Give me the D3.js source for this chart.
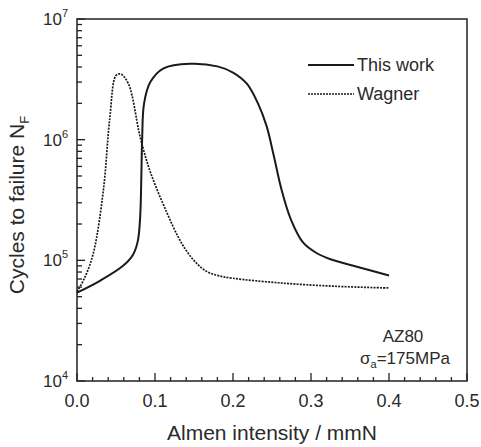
<!DOCTYPE html>
<html>
<head>
<meta charset="utf-8">
<script src="https://cdn.jsdelivr.net/npm/d3@7"></script>
<style>
  body { margin: 0; background: #fff; }
  text { font-family: "Liberation Sans", Arial, sans-serif; fill: #2a2a2a; }
</style>
</head>
<body>
<div id="chart"></div>
<script>
const width = 481;
const height = 447;
const margin = { top: 19, right: 14, bottom: 66, left: 77 };

// Almen intensity (mmN) and cycles to failure
const thisWorkX = [0.0, 0.03, 0.059, 0.072, 0.078, 0.081, 0.0825, 0.0835, 0.086, 0.094, 0.111, 0.145, 0.18, 0.2, 0.218, 0.232, 0.243, 0.252, 0.262, 0.274, 0.29, 0.307, 0.325, 0.36, 0.4];
const thisWorkN = [5.4e4, 6.8e4, 9.0e4, 1.12e5, 1.45e5, 2.3e5, 5.0e5, 1.0e6, 2.0e6, 3.0e6, 3.9e6, 4.25e6, 4.05e6, 3.6e6, 2.9e6, 2.0e6, 1.3e6, 7.5e5, 3.9e5, 2.2e5, 1.4e5, 1.15e5, 1.02e5, 8.8e4, 7.5e4];

const wagnerX = [0.0, 0.01, 0.021, 0.034, 0.042, 0.05, 0.056, 0.066, 0.081, 0.094, 0.115, 0.13, 0.141, 0.153, 0.166, 0.18, 0.2, 0.26, 0.33, 0.4];
const wagnerN = [5.5e4, 7.2e4, 1.15e5, 3.9e5, 1.5e6, 3.4e6, 3.5e6, 2.9e6, 1.05e6, 5.4e5, 2.5e5, 1.55e5, 1.18e5, 9.5e4, 8.1e4, 7.5e4, 7.1e4, 6.5e4, 6.1e4, 5.9e4];

const xTicks = [0.0, 0.1, 0.2, 0.3, 0.4, 0.5];
const yExponents = [4, 5, 6, 7];

const svg = d3
  .select("#chart")
  .append("svg")
  .attr("width", width)
  .attr("height", height);

const xScale = d3.scaleLinear().domain([0, 0.5]).range([margin.left, width - margin.right]);
const yScale = d3.scaleLog().domain([1e4, 1e7]).range([height - margin.bottom, margin.top]);

const x0 = xScale.range()[0], x1 = xScale.range()[1];
const y0 = yScale.range()[0], y1 = yScale.range()[1];

// frame
svg.append("rect")
  .attr("x", x0).attr("y", y1)
  .attr("width", x1 - x0).attr("height", y0 - y1)
  .attr("fill", "none").attr("stroke", "#222").attr("stroke-width", 1.5);

// x ticks (inward)
const xMinor = d3.range(0, 0.5001, 0.02);
svg.append("g").selectAll("line")
  .data(xMinor)
  .enter().append("line")
  .attr("x1", (d) => xScale(d)).attr("x2", (d) => xScale(d))
  .attr("y1", y0)
  .attr("y2", (d) => y0 - (Math.abs(d * 10 - Math.round(d * 10)) < 1e-6 ? 8 : 4))
  .attr("stroke", "#222").attr("stroke-width", 1.3);

svg.append("g").selectAll("text")
  .data(xTicks)
  .enter().append("text")
  .attr("x", (d) => xScale(d))
  .attr("y", 407)
  .attr("text-anchor", "middle")
  .attr("font-size", 18)
  .text((d) => d.toFixed(1));

// y ticks (inward)
const yMinor = [];
for (let e = 4; e < 7; e++) for (let m = 1; m < 10; m++) yMinor.push(m * Math.pow(10, e));
yMinor.push(1e7);
svg.append("g").selectAll("line")
  .data(yMinor)
  .enter().append("line")
  .attr("x1", x0)
  .attr("x2", (d) => x0 + (Math.abs(Math.log10(d) - Math.round(Math.log10(d))) < 1e-9 ? 8 : 5))
  .attr("y1", (d) => yScale(d)).attr("y2", (d) => yScale(d))
  .attr("stroke", "#222").attr("stroke-width", 1.3);

const yLab = svg.append("g").selectAll("text")
  .data(yExponents)
  .enter().append("text")
  .attr("x", 68)
  .attr("y", (d) => yScale(Math.pow(10, d)) + 6)
  .attr("text-anchor", "end")
  .attr("font-size", 17);
yLab.append("tspan").text("10");
yLab.append("tspan").attr("font-size", 11).attr("dy", -8).text((d) => d);

// curves
const line = d3.line()
  .x((d) => xScale(d[0]))
  .y((d) => yScale(d[1]))
  .curve(d3.curveCatmullRom.alpha(0.5));

svg.append("path")
  .datum(thisWorkX.map((x, i) => [x, thisWorkN[i]]))
  .attr("d", line)
  .attr("fill", "none").attr("stroke", "#1a1a1a").attr("stroke-width", 2);

svg.append("path")
  .datum(wagnerX.map((x, i) => [x, wagnerN[i]]))
  .attr("d", line)
  .attr("fill", "none").attr("stroke", "#1a1a1a").attr("stroke-width", 1.7)
  .attr("stroke-dasharray", "2,1.2");

// legend
svg.append("line").attr("x1", 308).attr("x2", 354).attr("y1", 65).attr("y2", 65)
  .attr("stroke", "#1a1a1a").attr("stroke-width", 2);
svg.append("text").attr("x", 357).attr("y", 71).attr("font-size", 18).text("This work");
svg.append("line").attr("x1", 308).attr("x2", 354).attr("y1", 94).attr("y2", 94)
  .attr("stroke", "#1a1a1a").attr("stroke-width", 1.5).attr("stroke-dasharray", "2,1");
svg.append("text").attr("x", 357).attr("y", 100).attr("font-size", 18).text("Wagner");

// annotation
svg.append("text").attr("x", 403).attr("y", 342).attr("text-anchor", "middle")
  .attr("font-size", 17).text("AZ80");
const sig = svg.append("text").attr("x", 405).attr("y", 364).attr("text-anchor", "middle")
  .attr("font-size", 17);
sig.append("tspan").text("σ");
sig.append("tspan").attr("font-size", 11).attr("dy", 4).text("a");
sig.append("tspan").attr("dy", -4).text("=175MPa");

// axis titles
svg.append("text").attr("x", 272).attr("y", 440).attr("text-anchor", "middle")
  .attr("font-size", 21).text("Almen intensity / mmN");

const yt = svg.append("text")
  .attr("transform", "translate(24,205) rotate(-90)")
  .attr("text-anchor", "middle")
  .attr("font-size", 21);
yt.append("tspan").text("Cycles to failure N");
yt.append("tspan").attr("font-size", 13).attr("dy", 5).text("F");
</script>
</body>
</html>
